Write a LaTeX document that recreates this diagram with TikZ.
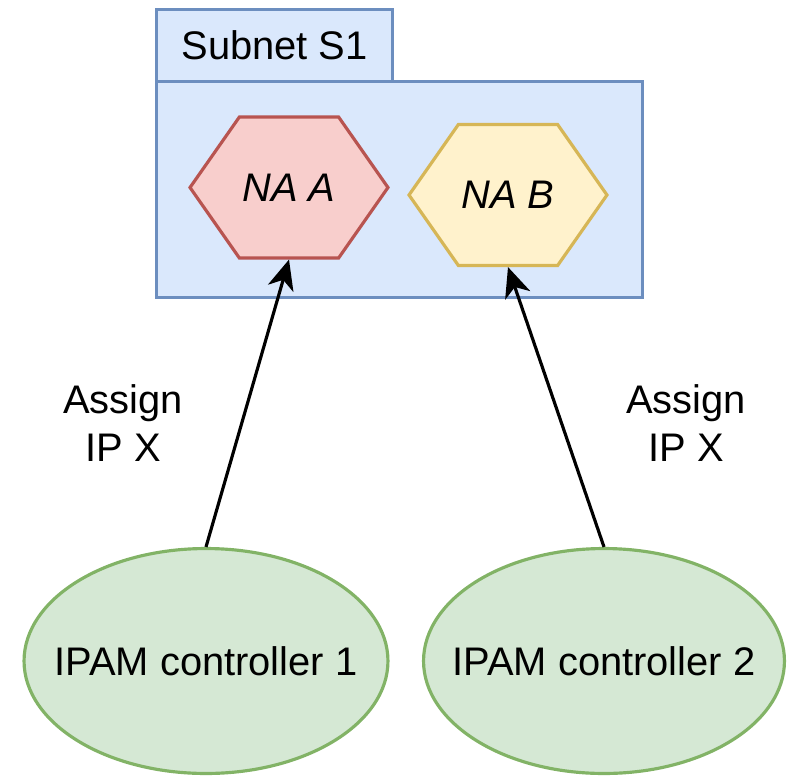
\documentclass[tikz,border=0pt]{standalone}
\usepackage{fontspec}
\setmainfont{Liberation Sans}
\usetikzlibrary{shapes.geometric,shapes.symbols,arrows.meta}

\definecolor{netfill}{HTML}{DAE8FC}
\definecolor{netline}{HTML}{6C8EBF}
\definecolor{nafill}{HTML}{F8CECC}
\definecolor{naline}{HTML}{B85450}
\definecolor{nbfill}{HTML}{FFF2CC}
\definecolor{nbline}{HTML}{D6B656}
\definecolor{ctlfill}{HTML}{D5E8D4}
\definecolor{ctlline}{HTML}{82B366}

\tikzset{
	base/.style={line width=1.8pt, font=\fontsize{22.7}{27.2}\selectfont, inner sep=0pt},
	netbox/.style={base, draw=netline, fill=netfill, anchor=north west},
	nahex/.style={base, signal, signal to=east and west, signal pointer angle=110,
		minimum width=3.96cm, minimum height=2.82cm, font=\fontsize{22.7}{27.2}\selectfont\itshape},
	% negative xsep so the text may run close to the outline
	ctl/.style={base, ellipse, draw=ctlline, fill=ctlfill, inner xsep=-1cm, minimum height=4.5cm},
	lbl/.style={base, align=center},
	link/.style={line width=1.8pt, -{Stealth[length=17pt, width=15pt, inset=5pt]}}
}

\begin{document}
\begin{tikzpicture}[x=0.02cm, y=-0.02cm]
	\useasboundingbox (0,0) rectangle (795,775);

	% subnet folder: tab and body
	\node[netbox, minimum width=4.72cm, minimum height=1.44cm] (tab) at (155,8) {Subnet S1};
	\node[netbox, minimum width=9.72cm, minimum height=4.32cm] (subnet) at (155,80) {};

	\node[nahex, draw=naline, fill=nafill] (naA) at (289,187.5) {NA A};
	\node[nahex, draw=nbline, fill=nbfill] (naB) at (508,195) {NA B};

	\node[ctl, minimum width=7.28cm] (ctl1) at (206,661) {IPAM controller 1};
	\node[ctl, minimum width=7.22cm] (ctl2) at (604,661) {IPAM controller 2};

	\draw[link] (ctl1.north) -- (naA.south);
	\draw[link] (ctl2.north) -- (naB.south);

	\node[lbl] (asgn1) at (123,423) {Assign\\IP X};
	\node[lbl] (asgn2) at (686,423) {Assign\\IP X};
\end{tikzpicture}
\end{document}
